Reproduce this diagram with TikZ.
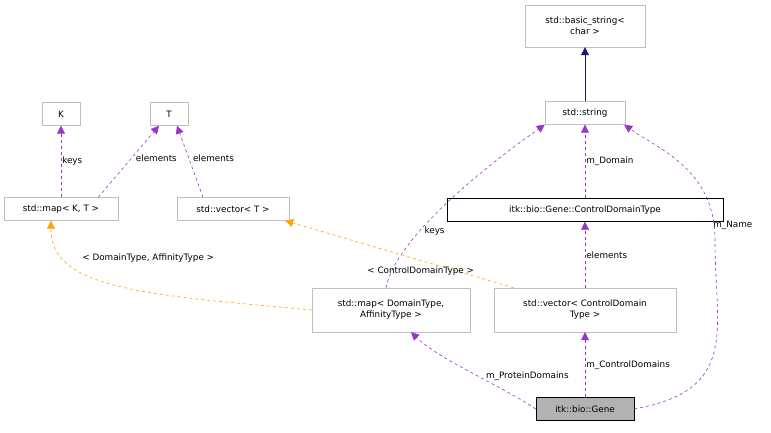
\documentclass[tikz,border=0pt]{standalone}
\usepackage{fontspec}
\setmainfont{DejaVu Sans}
\usetikzlibrary{arrows.meta}
\definecolor{memcol}{RGB}{154,50,205}
\definecolor{tplcol}{RGB}{255,165,0}
\definecolor{inhcol}{RGB}{25,25,112}
\tikzset{
  cls/.style={draw=black!25, fill=white, font=\fontsize{8.8}{11}\selectfont, align=center, inner sep=3pt},
  mem/.style={draw=memcol, semithick, dashed, -{Triangle[length=8pt,width=8pt]}},
  tpl/.style={draw=tplcol, semithick, dashed, -{Triangle[length=8pt,width=8pt]}},
  inh/.style={draw=inhcol, semithick, -{Triangle[length=8pt,width=8pt]}},
  lbl/.style={font=\fontsize{8.8}{11}\selectfont, inner sep=1pt}
}
\begin{document}
\begin{tikzpicture}[x=1pt,y=-1pt]
    \useasboundingbox (0,0) rectangle (771,432);

    % Classes
    \node[cls, minimum width=120, minimum height=42] (bstr) at (585,26) {std::basic\_string<\\char >};
    \node[cls, minimum width=80, minimum height=23] (str) at (585,113) {std::string};
    \node[cls, minimum width=38, minimum height=23] (k) at (61,114) {K};
    \node[cls, minimum width=38, minimum height=23] (t) at (169,114) {T};
    \node[cls, minimum width=114, minimum height=23] (mapkt) at (61,209) {std::map< K, T >};
    \node[cls, minimum width=112, minimum height=23] (vect) at (233,209) {std::vector< T >};
    \node[cls, draw=black, minimum width=276, minimum height=23] (cdt) at (585,210) {itk::bio::Gene::ControlDomainType};
    \node[cls, minimum width=158, minimum height=44] (mapdt) at (391,310) {std::map< DomainType,\\AffinityType >};
    \node[cls, minimum width=182, minimum height=44] (veccd) at (585,310) {std::vector< ControlDomain\\Type >};
    \node[cls, draw=black, fill=black!30, minimum width=98, minimum height=23] (gene) at (585,409) {itk::bio::Gene};

    % Inheritance
    \draw[inh] (str) -- (bstr);

    % Members
    \draw[mem] (cdt) -- node[lbl, right] {m\_Domain} (str);
    \draw[mem] (mapkt) -- node[lbl, right] {keys} (k);
    \draw[mem] ([xshift=-20]mapkt.north east) -- node[lbl, right, pos=0.55, xshift=3] {elements} ([xshift=-10]t.south);
    \draw[mem] (vect.north) ++(-30,0) coordinate (vt) (vt) -- node[lbl, right, pos=0.55, xshift=3] {elements} ([xshift=8]t.south);
    \draw[mem] (veccd) -- node[lbl, right] {elements} (cdt);
    \draw[mem] ([xshift=-5]mapdt.north) .. controls (395,240) and (480,170) .. node[lbl, right, pos=0.35, xshift=4] {keys} (str.south west);
    \draw[mem] (gene.west) .. controls (500,385) and (440,360) .. node[lbl, right, pos=0.4, yshift=3] {m\_ProteinDomains} ([xshift=20]mapdt.south);
    \draw[mem] (gene) -- node[lbl, right] {m\_ControlDomains} (veccd);
    \draw[mem] (gene.east) .. controls (740,390) and (715,330) .. (715,240)
        .. controls (715,170) and (660,150) .. node[lbl, pos=0.0, right, xshift=-3, yshift=15] {m\_Name} ([xshift=-1]str.south east);

    % Templates
    \draw[tpl] (mapdt.west) .. controls (150,295) and (50,290) .. node[lbl, pos=0.72, above right, xshift=8, yshift=2] {< DomainType, AffinityType >} ([xshift=-10]mapkt.south);
    \draw[tpl] ([xshift=20]veccd.north west) -- node[lbl, pos=0.16, above left, xshift=-2] {< ControlDomainType >} ([xshift=-4]vect.south east);
\end{tikzpicture}
\end{document}
